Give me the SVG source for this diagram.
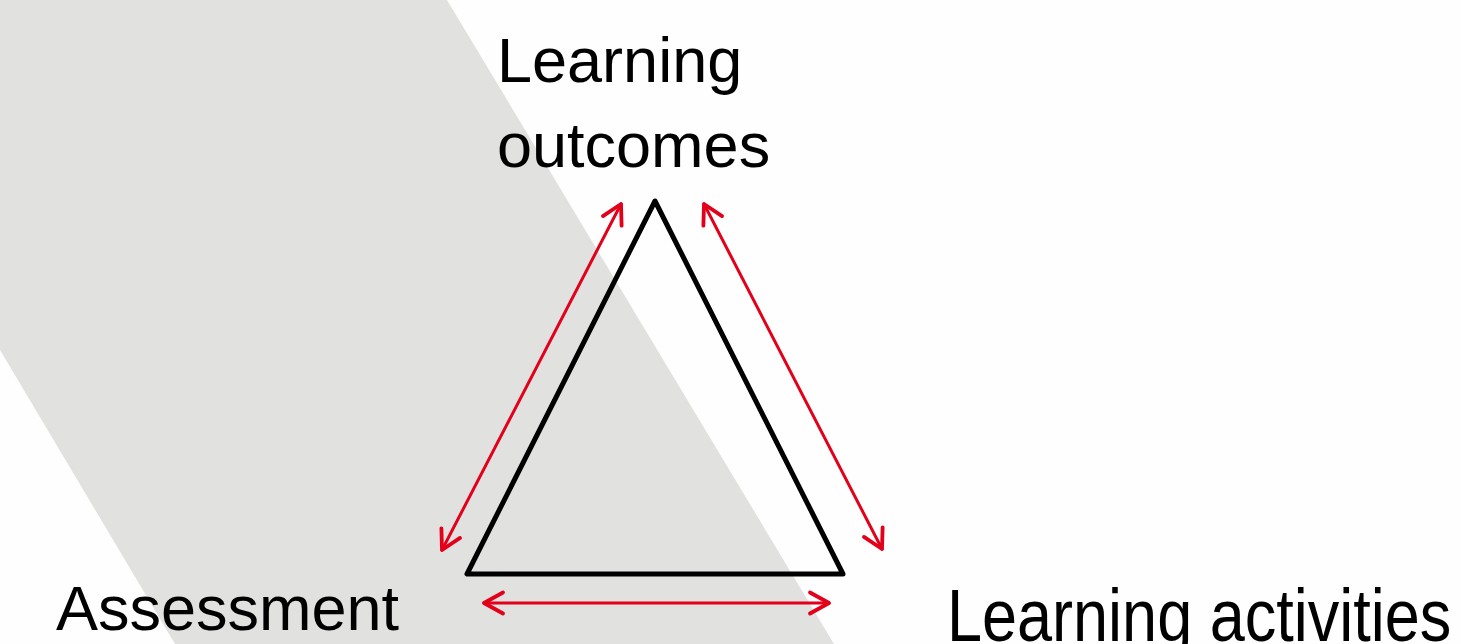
<svg xmlns="http://www.w3.org/2000/svg" width="1461" height="644" viewBox="0 0 1461 644">
<style>
.lbl{font-family:"Liberation Sans",Arial,sans-serif;font-size:63px;fill:#000}
.conn{stroke:#e2001a;stroke-width:3;fill:none;stroke-linecap:round;marker-start:url(#ah);marker-end:url(#ah)}
</style>
<defs>
<marker id="ah" markerUnits="userSpaceOnUse" viewBox="-24 -14 28 28" refX="0" refY="0" markerWidth="28" markerHeight="28" orient="auto-start-reverse">
<path d="M-19,-10.5 L0,0 L-19,10.5" fill="none" stroke="#e2001a" stroke-width="3.8" stroke-linecap="round" stroke-linejoin="round"/>
</marker>
</defs>
<rect width="1461" height="644" fill="#fefefe"/>
<polygon points="0,0 447,0 834,644 175,644 0,350" fill="#e1e1df"/>
<g id="triangle">
<polygon points="655,201 467,574 843,574" fill="none" stroke="#000" stroke-width="5" stroke-linejoin="round"/>
</g>
<g id="connectors">
<line class="conn" x1="621" y1="204" x2="442" y2="550"/>
<line class="conn" x1="704" y1="204" x2="882" y2="549"/>
<line class="conn" x1="484" y1="603" x2="829" y2="603"/>
</g>
<g id="node-outcomes">
<text class="lbl" x="497" y="82">Learning</text>
<text class="lbl" x="497" y="167">outcomes</text>
</g>
<g id="node-assessment">
<text class="lbl" x="56" y="630">Assessment</text>
</g>
<g id="node-activities">
<text class="lbl" transform="translate(947,640.5) scale(1,1.19)" x="0" y="0">Learning activities</text>
</g>
</svg>
